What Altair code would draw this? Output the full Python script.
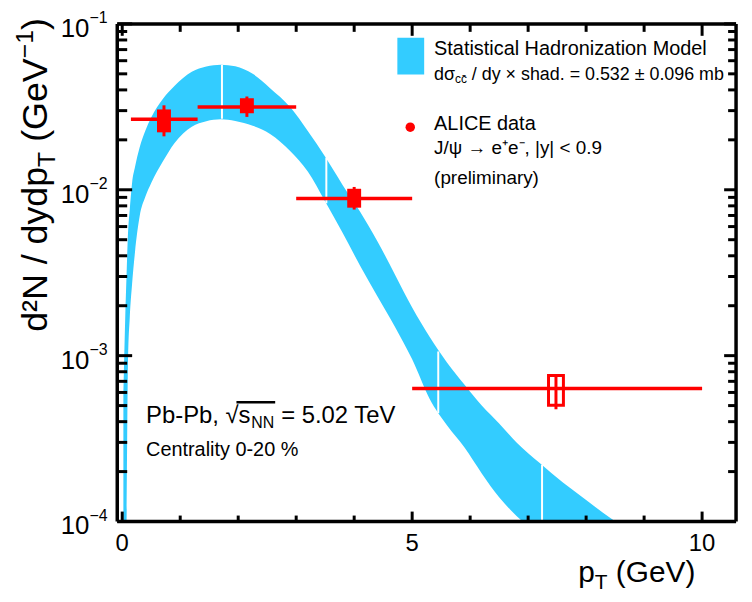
import altair as alt
import pandas as pd

FONT = "Liberation Sans"
W, H = 623, 501
BLUE = "#33CCFF"
RED = "#FF0000"

# ---------------- data ----------------
# SHM band read at common pT values (GeV): upper and lower edge of d2N/dydpT (GeV^-1)
band_x = [0.02, 0.05, 0.075, 0.1, 0.13, 0.17, 0.22, 0.3, 0.4, 0.5, 0.7, 0.9, 1.2, 1.45, 1.7,
          1.95, 2.25, 2.55, 2.9, 3.2, 3.5, 3.8, 4.1, 4.4, 4.7, 5.0, 5.3, 5.6, 5.9, 6.2, 6.5,
          6.8, 7.2, 7.6, 8.0, 8.4, 9.0, 10.0, 10.5]
band_hi = [6.0e-4, 1.6e-3, 0.0031, 0.0055, 0.0076, 0.0110, 0.0137, 0.0180, 0.0228, 0.0273,
           0.0352, 0.0422, 0.0514, 0.0553, 0.0568, 0.0555, 0.0500, 0.0410, 0.0314, 0.0226,
           0.0158, 0.0107, 0.0074, 0.0049, 0.0031, 0.00195, 0.00130, 0.00091, 0.00067,
           0.00050, 0.00039, 0.00030, 0.000225, 0.000172, 0.000135, 0.000106, 8.0e-5, 5.2e-5,
           4.2e-5]
band_lo = [1.0e-5, 3.0e-5, 1.0e-4, 0.00095, 0.0017, 0.0027, 0.0042, 0.0069, 0.0091, 0.0110,
           0.0148, 0.0191, 0.0240, 0.0259, 0.0266, 0.0260, 0.0243, 0.0217, 0.0171, 0.0129,
           0.0085, 0.0055, 0.0035, 0.00228, 0.00150, 0.00095, 0.00055, 0.00038, 0.00028,
           0.000195, 0.000140, 0.000108, 8.2e-5, 6.2e-5, 4.9e-5, 3.9e-5, 2.9e-5, 1.8e-5, 1.4e-5]
# gaps between band segments
seg_x = [1.72, 3.52, 5.45, 7.24]
seg_lo = [0.0268, 0.0083, 0.00045, 0.00009]
seg_hi = [0.0566, 0.0156, 0.00106, 0.00022]

# ALICE data points
pt_x = [0.72, 2.15, 4.0, 7.48]
pt_y = [0.0266, 0.0316, 0.00887, 0.000634]
pt_xlo = [0.15, 1.3, 3.0, 5.0]
pt_xhi = [1.3, 3.0, 5.0, 10.0]
stat_lo = [0.0210, 0.0275, 0.0076, 0.000475]
stat_hi = [0.0323, 0.0365, 0.0104, 0.00076]
sys_lo = [0.0222, 0.0289, 0.0078, 0.000502]
sys_hi = [0.0305, 0.0356, 0.01014, 0.000758]
open_box = [False, False, False, True]

# axis ticks and labels
x_major = [0, 5, 10]
x_major_labels = ["0", "5", "10"]
x_minor = [1, 2, 3, 4, 6, 7, 8, 9]
y_major = [1e-4, 1e-3, 1e-2, 1e-1]
y_major_exp = ["\u22124", "\u22123", "\u22122", "\u22121"]
y_minor = [2e-4, 3e-4, 4e-4, 5e-4, 6e-4, 7e-4, 8e-4, 9e-4,
           2e-3, 3e-3, 4e-3, 5e-3, 6e-3, 7e-3, 8e-3, 9e-3,
           2e-2, 3e-2, 4e-2, 5e-2, 6e-2, 7e-2, 8e-2, 9e-2]

# ---------------- chart ----------------
xs = alt.Scale(domain=[0, 10.5], nice=False, zero=False)
ys = alt.Scale(type="log", domain=[1e-4, 1e-1], nice=False)


def XQ(f):
    return alt.X(f, type="quantitative", scale=xs, axis=None)


def YQ(f):
    return alt.Y(f, type="quantitative", scale=ys, axis=None)


band = pd.DataFrame({"x": band_x, "hi": band_hi, "lo": band_lo})
seg = pd.DataFrame({"x": seg_x, "lo": seg_lo, "hi": seg_hi})
pts = pd.DataFrame({"x": pt_x, "y": pt_y, "xlo": pt_xlo, "xhi": pt_xhi,
                    "slo": stat_lo, "shi": stat_hi, "ylo": sys_lo, "yhi": sys_hi,
                    "open": open_box})
dummy = pd.DataFrame({"d": [0]})

layers = []
layers.append(alt.Chart(band).mark_area(color=BLUE, opacity=1, clip=True, interpolate="monotone")
              .encode(x=XQ("x"), y=YQ("hi"), y2=alt.Y2("lo")))
layers.append(alt.Chart(seg).mark_rule(color="white", strokeWidth=2, clip=True)
              .encode(x=XQ("x"), y=YQ("lo"), y2=alt.Y2("hi")))

# data points
layers.append(alt.Chart(pts).mark_rule(color=RED, strokeWidth=3.5)
              .encode(x=XQ("xlo"), x2=alt.X2("xhi"), y=YQ("y")))
layers.append(alt.Chart(pts).transform_filter("!datum.open")
              .mark_bar(color=RED, width=14, orient="vertical")
              .encode(x=XQ("x"), y=YQ("ylo"), y2=alt.Y2("yhi")))
layers.append(alt.Chart(pts).transform_filter("datum.open")
              .mark_bar(filled=False, color=RED, strokeWidth=3, width=15, orient="vertical")
              .encode(x=XQ("x"), y=YQ("ylo"), y2=alt.Y2("yhi")))
layers.append(alt.Chart(pts).mark_rule(color=RED, strokeWidth=3)
              .encode(x=XQ("x"), y=YQ("slo"), y2=alt.Y2("shi")))

# ticks (inward)
xmaj = pd.DataFrame({"x": x_major, "t": x_major_labels})
xmin = pd.DataFrame({"x": x_minor})
ymaj = pd.DataFrame({"y": y_major, "e": y_major_exp, "b": ["10"] * len(y_major)})
ymin = pd.DataFrame({"y": y_minor})
tk = dict(color="black", strokeWidth=3)
layers.append(alt.Chart(xmaj).mark_rule(**tk).encode(x=XQ("x"), y=alt.value(H), y2=alt.value(H - 10)))
layers.append(alt.Chart(xmin).mark_rule(**tk).encode(x=XQ("x"), y=alt.value(H), y2=alt.value(H - 6)))
layers.append(alt.Chart(xmaj).mark_rule(**tk).encode(x=XQ("x"), y=alt.value(0), y2=alt.value(12)))
layers.append(alt.Chart(xmin).mark_rule(**tk).encode(x=XQ("x"), y=alt.value(0), y2=alt.value(8)))
layers.append(alt.Chart(ymaj).mark_rule(**tk).encode(y=YQ("y"), x=alt.value(0), x2=alt.value(15)))
layers.append(alt.Chart(ymin).mark_rule(**tk).encode(y=YQ("y"), x=alt.value(0), x2=alt.value(10)))
layers.append(alt.Chart(ymaj).mark_rule(**tk).encode(y=YQ("y"), x=alt.value(W), x2=alt.value(W - 12)))
layers.append(alt.Chart(ymin).mark_rule(**tk).encode(y=YQ("y"), x=alt.value(W), x2=alt.value(W - 8)))

# frame
fr = dict(color="black", strokeWidth=3.5)
layers.append(alt.Chart(dummy).mark_rule(**fr).encode(x=alt.value(0), x2=alt.value(W), y=alt.value(0)))
layers.append(alt.Chart(dummy).mark_rule(**fr).encode(x=alt.value(0), x2=alt.value(W), y=alt.value(H)))
layers.append(alt.Chart(dummy).mark_rule(**fr).encode(x=alt.value(0), y=alt.value(0), y2=alt.value(H)))
layers.append(alt.Chart(dummy).mark_rule(**fr).encode(x=alt.value(W), y=alt.value(0), y2=alt.value(H)))

# tick labels
layers.append(alt.Chart(xmaj).mark_text(font=FONT, fontSize=24, baseline="middle", align="center")
              .encode(x=XQ("x"), y=alt.value(H + 23), text="t:N"))
layers.append(alt.Chart(ymaj).mark_text(font=FONT, fontSize=26, baseline="middle", align="right", dy=5)
              .encode(y=YQ("y"), x=alt.value(-28), text="b:N"))
layers.append(alt.Chart(ymaj).mark_text(font=FONT, fontSize=16, baseline="middle", align="left", dy=-6)
              .encode(y=YQ("y"), x=alt.value(-28), text="e:N"))


def label(text, x, y, size, align="left", baseline="middle", angle=0, color="black"):
    return (alt.Chart(dummy)
            .mark_text(text=text, font=FONT, fontSize=size, align=align, baseline=baseline,
                       angle=angle, color=color)
            .encode(x=alt.value(x), y=alt.value(y)))


# axis titles (rotated y title built from pieces to get sub/superscripts)
layers.append(label("d\u00b2N / dydp", -71, 310, 36, baseline="alphabetic", angle=270))
layers.append(label("T", -63, 144, 25, baseline="alphabetic", angle=270))
layers.append(label("(GeV", -71, 118.7, 36, baseline="alphabetic", angle=270))
layers.append(label("\u22121", -85, 34.7, 25, baseline="alphabetic", angle=270))
layers.append(label(")", -71, 6.2, 36, baseline="alphabetic", angle=270))

layers.append(label("p", 464, 562, 30, baseline="alphabetic"))
layers.append(label("T", 480.7, 569, 21, baseline="alphabetic"))
layers.append(label("(GeV)", 502, 562, 30, baseline="alphabetic"))

# legend
layers.append(alt.Chart(dummy).mark_rect(color=BLUE)
              .encode(x=alt.value(282), x2=alt.value(309), y=alt.value(14), y2=alt.value(51)))
layers.append(label("Statistical Hadronization Model", 319, 25.5, 20))
layers.append(label("d\u03c3", 319, 51, 18))
layers.append(label("cc\u0304", 340, 56, 12))
layers.append(label("/ dy \u00d7 shad. = 0.532 \u00b1 0.096 mb", 357, 51, 18))
layers.append(alt.Chart(dummy).mark_circle(color=RED, size=90, opacity=1)
              .encode(x=alt.value(295), y=alt.value(104)))
layers.append(label("ALICE data", 319, 101, 20))
layers.append(label("J/\u03c8 \u2192 e\u207ae\u207b, |y| < 0.9", 319, 125, 19))
layers.append(label("(preliminary)", 319, 155, 19))

# annotation
layers.append(label("Pb-Pb, \u221as", 29, 395, 24))
layers.append(label("NN", 135, 402, 16))
layers.append(label("= 5.02 TeV", 165, 395, 24))
layers.append(alt.Chart(dummy).mark_rule(color="black", strokeWidth=2.5)
              .encode(x=alt.value(120), x2=alt.value(159), y=alt.value(381)))
layers.append(label("Centrality 0-20 %", 29, 429, 20))

chart = (alt.layer(*layers)
         .properties(width=W, height=H,
                     padding={"left": 110, "top": 14, "right": 8, "bottom": 77},
                     autosize=alt.AutoSizeParams(type="none"),
                     background="white")
         .configure_view(stroke=None))

chart.save("out.html", embed_options={"renderer": "svg", "actions": False})
